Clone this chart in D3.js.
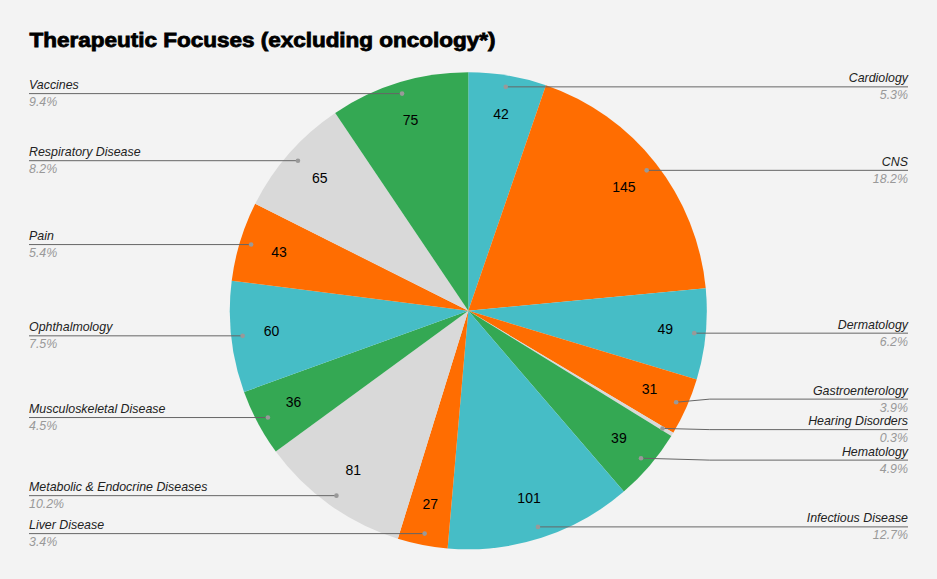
<!DOCTYPE html>
<html>
<head>
<meta charset="utf-8">
<script src="https://cdn.jsdelivr.net/npm/d3@7"></script>
<style>
  html, body { margin: 0; padding: 0; background: #f3f3f3; }
  svg { display: block; }
</style>
</head>
<body>
<svg id="chart" width="937" height="579"></svg>
<script>
const categories = ["Cardiology", "CNS", "Dermatology", "Gastroenterology", "Hearing Disorders", "Hematology",
  "Infectious Disease", "Liver Disease", "Metabolic & Endocrine Diseases", "Musculoskeletal Disease",
  "Ophthalmology", "Pain", "Respiratory Disease", "Vaccines"];
const values = [42, 145, 49, 31, 2, 39, 101, 27, 81, 36, 60, 43, 65, 75];
const showValueLabel = [true, true, true, true, false, true, true, true, true, true, true, true, true, true];
const colors = ["#46bdc6", "#ff6d01", "#46bdc6", "#ff6d01", "#d9d9d9", "#34a853", "#46bdc6", "#ff6d01",
  "#d9d9d9", "#34a853", "#46bdc6", "#ff6d01", "#d9d9d9", "#34a853"];
const title = "Therapeutic Focuses (excluding oncology*)";

const W = 937, H = 579;
const cx = 468.3, cy = 310.8, R = 238.5;
const svg = d3.select("#chart");
svg.append("rect").attr("width", W).attr("height", H).attr("fill", "#f3f3f3");

svg.append("text")
  .attr("x", 29.5).attr("y", 47)
  .attr("font-family", "Liberation Sans, Arial, sans-serif")
  .attr("font-weight", "bold")
  .attr("font-size", 19.5)
  .attr("fill", "#000")
  .attr("stroke", "#000")
  .attr("stroke-width", 0.8)
  .attr("textLength", 466)
  .attr("lengthAdjust", "spacingAndGlyphs")
  .text(title);

const total = d3.sum(values);
const data = categories.map((c, i) => ({ name: c, value: values[i], color: colors[i], show: showValueLabel[i], i }));
const pie = d3.pie().value(d => d.value).sort(null);
const arcs = pie(data);
const arc = d3.arc().innerRadius(0).outerRadius(R);

const g = svg.append("g").attr("transform", `translate(${cx},${cy})`);
g.selectAll("path.slice").data(arcs).join("path")
  .attr("class", "slice")
  .attr("d", arc)
  .attr("fill", d => d.data.color);

// value labels
const labelArc = d3.arc().innerRadius(R * 0.83).outerRadius(R * 0.83);
g.selectAll("text.val").data(arcs.filter(a => a.data.show)).join("text")
  .attr("class", "val")
  .attr("transform", d => { const c = labelArc.centroid(d); return `translate(${c[0]},${c[1] - 1.5})`; })
  .attr("text-anchor", "middle")
  .attr("dominant-baseline", "central")
  .attr("font-family", "Liberation Sans, Arial, sans-serif")
  .attr("font-size", 14)
  .attr("fill", "#000")
  .text(d => d.data.value);

// leader labels
const dotR = R * 0.952;
const items = arcs.map(a => {
  const mid = (a.startAngle + a.endAngle) / 2;
  const x = cx + dotR * Math.sin(mid);
  const y = cy - dotR * Math.cos(mid);
  return { a, mid, x, y, side: Math.sin(mid) >= 0 ? "right" : "left", ly: y };
});

function resolve(list, gap) {
  list.sort((p, q) => p.y - q.y);
  for (let iter = 0; iter < 200; iter++) {
    let moved = false;
    for (let k = 1; k < list.length; k++) {
      const d = list[k].ly - list[k - 1].ly;
      if (d < gap) {
        const push = (gap - d) / 2;
        list[k - 1].ly -= push;
        list[k].ly += push;
        moved = true;
      }
    }
    if (!moved) break;
  }
}
resolve(items.filter(d => d.side === "right"), 30.5);
resolve(items.filter(d => d.side === "left"), 30.5);

const labG = svg.append("g");
items.forEach(d => {
  const right = d.side === "right";
  const endX = right ? 908 : 29;
  const bendX = right ? cx + R + 3 : cx - R - 3;
  let pts;
  if (Math.abs(d.ly - d.y) < 0.5) {
    pts = [[d.x, d.y], [endX, d.ly]];
  } else {
    pts = [[d.x, d.y], [bendX, d.ly], [endX, d.ly]];
  }
  labG.append("path")
    .attr("d", d3.line()(pts))
    .attr("fill", "none")
    .attr("stroke", "#666")
    .attr("stroke-width", 1);
  labG.append("circle")
    .attr("cx", d.x).attr("cy", d.y).attr("r", 2.3)
    .attr("fill", "#999");
  labG.append("text")
    .attr("x", endX).attr("y", d.ly - 4.5)
    .attr("text-anchor", right ? "end" : "start")
    .attr("font-family", "Liberation Sans, Arial, sans-serif")
    .attr("font-style", "italic")
    .attr("font-size", 12.4)
    .attr("fill", "#222")
    .text(d.a.data.name);
  labG.append("text")
    .attr("x", endX).attr("y", d.ly + 12.5)
    .attr("text-anchor", right ? "end" : "start")
    .attr("font-family", "Liberation Sans, Arial, sans-serif")
    .attr("font-style", "italic")
    .attr("font-size", 12.4)
    .attr("fill", "#999")
    .text(d3.format(".1%")(d.a.data.value / total));
});
</script>
</body>
</html>
